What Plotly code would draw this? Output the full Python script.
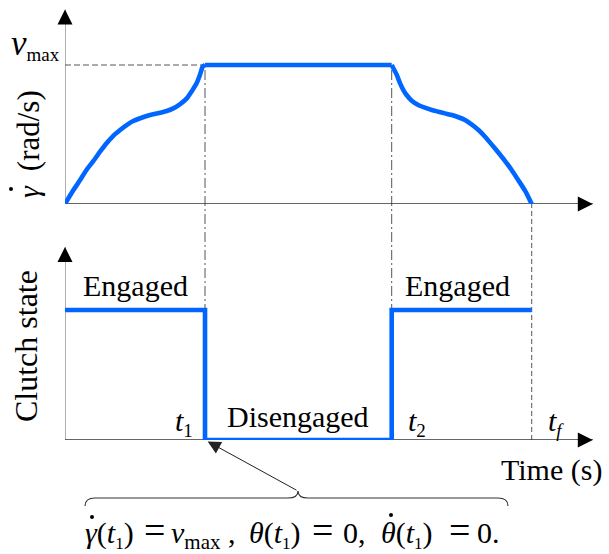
import plotly.graph_objects as go

# ---- timing / levels ----
T1, T2, TF = 3.0, 7.0, 10.0
VMAX = 1.0

# ---- speed profile (rad/s, normalised to v_max) ----
rise_t = [0.0, 0.18, 0.32, 0.46, 0.61, 0.75, 0.89, 1.03, 1.18, 1.32, 1.46, 1.61, 1.75, 1.89,
          2.04, 2.18, 2.32, 2.46, 2.61, 2.71, 2.82, 2.89, 2.95, 3.0]
rise_v = [0.0, 0.10, 0.17, 0.245, 0.31, 0.376, 0.437, 0.489, 0.532, 0.568, 0.597, 0.617, 0.633,
          0.645, 0.657, 0.669, 0.688, 0.717, 0.760, 0.808, 0.868, 0.928, 0.988, 1.0]
plateau_t = [T1, T2]
plateau_v = [VMAX, VMAX]
fall_t = [7.0, 7.11, 7.18, 7.25, 7.32, 7.43, 7.57, 7.71, 7.86, 8.00, 8.14, 8.29, 8.43, 8.57,
          8.71, 8.86, 9.00, 9.14, 9.28, 9.43, 9.57, 9.71, 9.86, 10.0]
fall_v = [1.0, 0.928, 0.868, 0.820, 0.784, 0.743, 0.712, 0.693, 0.676, 0.664, 0.652, 0.640,
          0.624, 0.604, 0.573, 0.532, 0.484, 0.429, 0.372, 0.309, 0.245, 0.173, 0.094, 0.0]

# ---- clutch state (1 = engaged, 0 = disengaged) ----
clutch_t = [0.0, T1, T2, TF]
clutch_state = [1, 0, 1, 1]

# ---- page geometry ----
W, H = 609, 554
BLUE = "#0066ff"
FONT = "Liberation Serif"
FS = 30


def px_x(x):
    return x / W


def px_y(y):
    return 1 - y / H


X0, XEND, PX_T = 65, 600, 46.67
TOP_Y0, TOP_YEND, TOP_PX = 204, 4, 139.0
BOT_Y0, BOT_YEND, BOT_PX = 440, 242, 130.0

xdom = [px_x(X0), px_x(XEND)]
xrng = [0, (XEND - X0) / PX_T]

fig = go.Figure()

line_style = dict(color=BLUE, width=4.6)
fig.add_trace(go.Scatter(x=rise_t, y=rise_v, mode="lines",
                         line=dict(shape="spline", smoothing=0.6, **line_style), xaxis="x", yaxis="y"))
fig.add_trace(go.Scatter(x=plateau_t, y=plateau_v, mode="lines", line=line_style, xaxis="x", yaxis="y"))
fig.add_trace(go.Scatter(x=fall_t, y=fall_v, mode="lines",
                         line=dict(shape="spline", smoothing=0.6, **line_style), xaxis="x", yaxis="y"))
fig.add_trace(go.Scatter(x=clutch_t, y=clutch_state, mode="lines", line=dict(shape="hv", **line_style),
                         xaxis="x2", yaxis="y2"))

axis_common = dict(visible=False, fixedrange=True)
fig.update_layout(
    width=W, height=H,
    margin=dict(l=0, r=0, t=0, b=0),
    paper_bgcolor="white", plot_bgcolor="rgba(0,0,0,0)",
    showlegend=False,
    xaxis=dict(domain=xdom, range=xrng, anchor="y", **axis_common),
    yaxis=dict(domain=[px_y(TOP_Y0), px_y(TOP_YEND)], range=[0, (TOP_Y0 - TOP_YEND) / TOP_PX],
               anchor="x", **axis_common),
    xaxis2=dict(domain=xdom, range=xrng, anchor="y2", **axis_common),
    yaxis2=dict(domain=[px_y(BOT_Y0), px_y(BOT_YEND)], range=[0, (BOT_Y0 - BOT_YEND) / BOT_PX],
                anchor="x2", **axis_common),
)

shapes = []
X_TIP = 11.31
Y_TIPS = (("x", "y", 1.40), ("x2", "y2", 1.485))
for xr, yr, ytip in Y_TIPS:
    shapes.append(dict(type="line", xref=xr, yref=yr, x0=0, y0=0, x1=0, y1=ytip,
                       line=dict(color="#777", width=1.2), layer="below"))
    shapes.append(dict(type="line", xref=xr, yref=yr, x0=0, y0=0, x1=X_TIP, y1=0,
                       line=dict(color="#333", width=1.4), layer="below"))

# reference lines
shapes.append(dict(type="line", xref="x", yref="y", x0=0, x1=T1, y0=VMAX, y1=VMAX,
                   line=dict(color="#555", width=1, dash="6px,3px"), layer="below"))
y_top_vmax = px_y(TOP_Y0 - VMAX * TOP_PX)
for tx in (T1, T2):
    shapes.append(dict(type="line", xref="x", yref="paper", x0=tx, x1=tx,
                       y0=px_y(BOT_Y0), y1=y_top_vmax,
                       line=dict(color="#555", width=1, dash="10px,3px,2px,3px"), layer="below"))
shapes.append(dict(type="line", xref="x", yref="paper", x0=TF, x1=TF,
                   y0=px_y(BOT_Y0), y1=px_y(TOP_Y0),
                   line=dict(color="#555", width=1, dash="5px,3px"), layer="below"))


def P(x, y):
    return f"{px_x(x):.5f},{px_y(y):.5f}"


# curly brace over the initial conditions
brace = (f"M{P(85, 506)} Q{P(85, 498)} {P(95, 498)} L{P(288, 498)} Q{P(298, 498)} {P(298, 491)} "
         f"Q{P(298, 498)} {P(308, 498)} L{P(498, 498)} Q{P(508, 498)} {P(508, 506)}")
shapes.append(dict(type="path", xref="paper", yref="paper", path=brace,
                   line=dict(color="#333", width=1.2)))


# time-derivative dots over gamma / theta
def dot(cx, cy, r=2.0):
    return dict(type="circle", xref="paper", yref="paper", x0=px_x(cx - r), x1=px_x(cx + r),
                y0=px_y(cy + r), y1=px_y(cy - r), fillcolor="black", line=dict(width=0))


shapes += [dot(11, 189), dot(92, 517), dot(391, 515)]
fig.update_layout(shapes=shapes)

ann = []
# arrowheads on the axes
head = dict(text="", showarrow=True, arrowhead=2, arrowsize=2.5, arrowwidth=1.2,
            arrowcolor="black", standoff=0)
for xr, yr, ytip in Y_TIPS:
    ann.append(dict(xref=xr, yref=yr, x=0, y=ytip, ax=0, ay=12, **head))
    ann.append(dict(xref=xr, yref=yr, x=X_TIP, y=0, ax=-12, ay=0, **head))

# pointer from the brace to t1
ann.append(dict(xref="x2", yref="y2", x=T1, y=0, ax=93, ay=51, text="", showarrow=True,
                arrowhead=2, arrowsize=2.6, arrowwidth=1.0, arrowcolor="#222", standoff=3))

txt = dict(showarrow=False, font=dict(family=FONT, size=FS, color="black"))
ann.append(dict(xref="paper", yref="paper", x=px_x(9), y=px_y(44), xanchor="left", yanchor="middle",
                text='<span style="font-size:35px"><i>v</i></span><sub><span style="font-size:19px">max</span></sub>',
                **txt))
ann.append(dict(xref="paper", yref="paper", x=px_x(29), y=px_y(144), textangle=-90,
                xanchor="center", yanchor="middle",
                text='<i>γ</i>  <span style="font-size:31px">(rad/s)</span>', **txt))
ann.append(dict(xref="paper", yref="paper", x=px_x(26), y=px_y(346), textangle=-90,
                xanchor="center", yanchor="middle", text='<span style="font-size:32px">Clutch state</span>',
                **txt))
ann.append(dict(xref="x2", yref="y2", x=T1 / 2, y=1, yshift=25, text="Engaged", **txt))
ann.append(dict(xref="x2", yref="y2", x=8.4, y=1, yshift=25, text="Engaged", **txt))
ann.append(dict(xref="x2", yref="y2", x=(T1 + T2) / 2, y=0, yshift=24, text="Disengaged", **txt))
sub = '<sub><span style="font-size:19px">{}</span></sub>'
ann.append(dict(xref="x2", yref="y2", x=T1, y=0, xanchor="right", xshift=-10, yshift=18,
                text="<i>t</i>" + sub.format("1"), **txt))
ann.append(dict(xref="x2", yref="y2", x=T2, y=0, xanchor="left", xshift=14, yshift=18,
                text="<i>t</i>" + sub.format("2"), **txt))
ann.append(dict(xref="x2", yref="y2", x=TF, y=0, xanchor="left", xshift=14, yshift=18,
                text="<i>t</i>" + sub.format("<i>f</i>"), **txt))
ann.append(dict(xref="paper", yref="paper", x=px_x(604), y=px_y(470), xanchor="right",
                yanchor="middle", text="Time (s)", **txt))

# initial conditions at t1, set piece by piece on a common baseline
EQ_BASE = 542
esub = '<sub><span style="font-size:17px">{}</span></sub>'
t1s = "(<i>t</i>" + esub.format("1") + ")"
eq_pieces = [
    (84, "<i>γ</i>" + t1s, 30),
    (143, "=", 38),
    (170, "<i>v</i>" + '<sub><span style="font-size:21px">max</span></sub>' + " ,", 30),
    (248, "<i>θ</i>" + t1s, 30),
    (311, "=", 38),
    (342, "0,", 30),
    (380, "<i>θ</i>" + t1s, 30),
    (448, "=", 38),
    (476, "0.", 30),
]
for x_left, piece, fs in eq_pieces:
    ann.append(dict(xref="paper", yref="paper", x=px_x(x_left), y=px_y(EQ_BASE - 0.891 * fs),
                    xanchor="left", yanchor="top", text=piece, showarrow=False, borderpad=0,
                    font=dict(family=FONT, size=fs, color="black")))
fig.update_layout(annotations=ann)

fig.write_html("out.html")
